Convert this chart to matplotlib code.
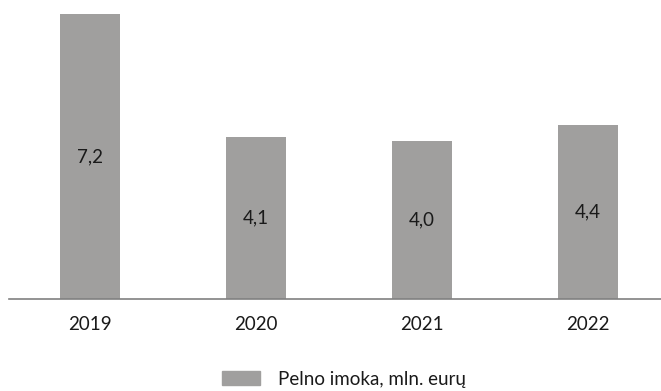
import matplotlib
matplotlib.use("Agg")
from matplotlib import pyplot as plt
from matplotlib.patches import Patch

years = ["2019", "2020", "2021", "2022"]
values = [7.2, 4.1, 4.0, 4.4]
labels = ["7,2", "4,1", "4,0", "4,4"]
series_name = "Pelno imoka, mln. eurų"

bar_color = "#a09f9e"
text_color = "#1a1a1a"

plt.rcParams["font.family"] = ["Lato", "DejaVu Sans"]
fs = 13.5

fig = plt.figure(figsize=(6.61, 3.91), dpi=100)
ax = fig.add_axes([9 / 661, 1 - 299 / 391, 1 - 9 / 661, (299 - 14) / 391])

x = range(len(years))
bars = ax.bar(x, values, width=0.356, color=bar_color)
for b, lab in zip(bars, labels):
  ax.text(b.get_x() + b.get_width() / 2, b.get_height() / 2, lab,
          ha="center", va="center", fontsize=fs, color=text_color)

ax.set_xlim(-0.488, 3.44)
ax.set_ylim(0, 7.2)
ax.set_xticks(list(x))
ax.set_xticklabels(years, fontsize=fs, color=text_color)
ax.tick_params(axis="x", length=0, pad=12)
ax.set_yticks([])
for s in ["top", "right", "left"]:
  ax.spines[s].set_visible(False)
ax.spines["bottom"].set_color("#808080")
ax.spines["bottom"].set_linewidth(1.2)

fig.legend(handles=[Patch(color=bar_color, label=series_name)],
           loc="center", bbox_to_anchor=(344 / 661, 1 - 379 / 391),
           frameon=False, fontsize=fs, handlelength=2.03, handleheight=0.85,
           handletextpad=0.96, borderpad=0, labelcolor=text_color)

fig.savefig("out.png", dpi=100)
